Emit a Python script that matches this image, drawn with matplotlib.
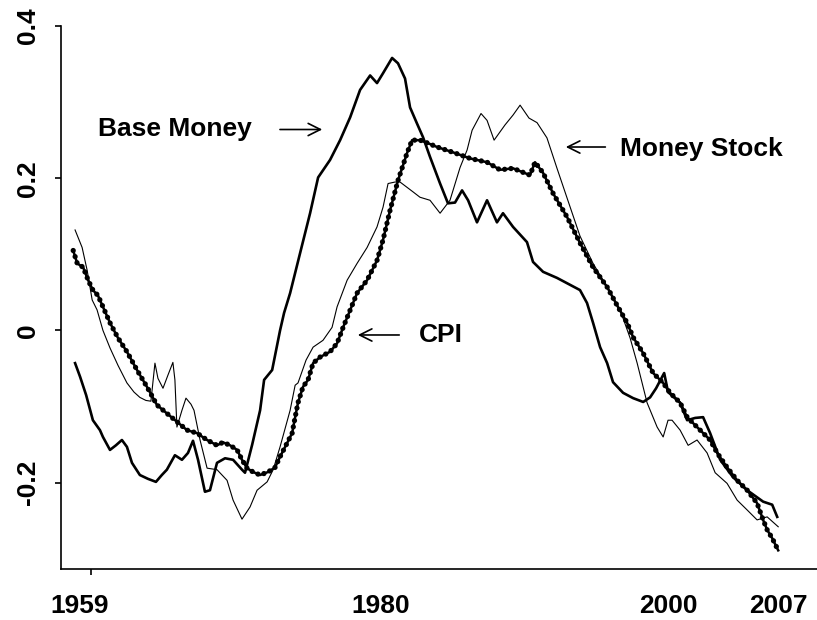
import numpy as np
import matplotlib.pyplot as plt

# values (decimal year, deviation)
base_years = [1958.72, 1959.07, 1959.49, 1959.96, 1960.45, 1960.66, 1961.15, 1961.56, 1961.98, 1962.33,
              1962.68, 1963.23, 1963.79, 1964.35, 1964.76, 1965.11, 1965.67, 1966.16, 1966.58, 1966.93,
              1967.28, 1967.76, 1968.11, 1968.60, 1969.16, 1969.72, 1970.34, 1970.55, 1971.05, 1971.60,
              1971.88, 1972.44, 1972.99, 1973.27, 1973.69, 1974.39, 1975.08, 1975.64, 1976.47, 1977.17,
              1977.87, 1978.56, 1979.26, 1979.74, 1980.16, 1980.79, 1981.20, 1981.69, 1982.04, 1982.52,
              1982.94, 1983.43, 1984.13, 1984.68, 1985.17, 1985.66, 1986.08, 1986.70, 1987.40, 1988.09,
              1988.51, 1989.21, 1990.18, 1990.60, 1991.30, 1992.27, 1992.97, 1993.87, 1994.36, 1994.78,
              1995.27, 1995.76, 1996.17, 1996.87, 1997.57, 1998.27, 1998.75, 1999.17, 1999.73, 2000.00,
              2000.84, 2001.33, 2001.89, 2002.44, 2002.93, 2003.63, 2004.53, 2005.51, 2006.62, 2007.25,
              2007.60]
base_money = [-0.043, -0.061, -0.085, -0.118, -0.131, -0.140, -0.157, -0.151, -0.144, -0.153,
              -0.174, -0.190, -0.195, -0.199, -0.190, -0.183, -0.164, -0.170, -0.161, -0.145,
              -0.170, -0.212, -0.210, -0.174, -0.168, -0.170, -0.183, -0.187, -0.150, -0.105,
              -0.065, -0.052, 0.000, 0.023, 0.049, 0.102, 0.154, 0.201, 0.224, 0.250,
              0.280, 0.316, 0.335, 0.325, 0.338, 0.358, 0.351, 0.331, 0.293, 0.272,
              0.254, 0.228, 0.193, 0.167, 0.168, 0.184, 0.171, 0.142, 0.171, 0.142,
              0.154, 0.136, 0.116, 0.090, 0.077, 0.069, 0.062, 0.053, 0.036, 0.010,
              -0.022, -0.043, -0.068, -0.082, -0.089, -0.094, -0.088, -0.076, -0.056, -0.081,
              -0.095, -0.118, -0.115, -0.114, -0.135, -0.170, -0.193, -0.210, -0.225, -0.229,
              -0.245]

stock_years = [1958.72, 1959.21, 1959.56, 1959.91, 1960.25, 1960.66, 1961.15, 1961.71, 1962.33, 1962.82,
               1963.23, 1963.65, 1964.00, 1964.28, 1964.49, 1964.84, 1965.18, 1965.53, 1965.67, 1965.81,
               1966.16, 1966.44, 1966.79, 1967.00, 1967.42, 1967.91, 1968.60, 1969.30, 1969.72, 1970.34,
               1970.90, 1971.39, 1972.09, 1972.51, 1972.99, 1973.69, 1974.04, 1974.24, 1974.80, 1975.29,
               1975.98, 1976.61, 1976.96, 1977.66, 1978.35, 1979.05, 1979.74, 1980.16, 1980.51, 1981.00,
               1981.34, 1981.83, 1982.25, 1982.73, 1983.43, 1984.13, 1984.82, 1985.52, 1986.01, 1986.36,
               1986.98, 1987.40, 1987.89, 1988.65, 1989.21, 1989.70, 1990.32, 1990.88, 1991.57, 1992.27,
               1992.97, 1993.87, 1994.78, 1995.76, 1996.66, 1997.36, 1997.85, 1998.54, 1999.24, 1999.66,
               2000.00, 2000.28, 2000.84, 2001.40, 2002.02, 2002.72, 2003.28, 2004.11, 2004.81, 2005.51,
               2006.20, 2006.90, 2007.67]
money_stock = [0.132, 0.109, 0.079, 0.040, 0.027, 0.000, -0.023, -0.046, -0.069, -0.081,
               -0.088, -0.092, -0.093, -0.043, -0.063, -0.076, -0.059, -0.042, -0.065, -0.127,
               -0.105, -0.089, -0.097, -0.105, -0.144, -0.181, -0.183, -0.197, -0.223, -0.248,
               -0.232, -0.210, -0.199, -0.183, -0.153, -0.105, -0.072, -0.069, -0.039, -0.022,
               -0.013, 0.004, 0.031, 0.066, 0.088, 0.109, 0.136, 0.162, 0.193, 0.195,
               0.195, 0.188, 0.182, 0.175, 0.171, 0.154, 0.171, 0.214, 0.237, 0.263,
               0.285, 0.276, 0.250, 0.270, 0.283, 0.296, 0.279, 0.273, 0.253, 0.213,
               0.174, 0.124, 0.088, 0.057, 0.027, -0.010, -0.043, -0.095, -0.127, -0.140,
               -0.118, -0.118, -0.131, -0.151, -0.144, -0.161, -0.187, -0.201, -0.223, -0.236,
               -0.249, -0.245, -0.258]

cpi_years = [1958.59, 1958.87, 1959.28, 1959.63, 1959.96, 1960.31, 1960.66, 1961.15, 1961.71, 1962.33,
             1963.03, 1963.72, 1964.42, 1965.11, 1965.81, 1966.51, 1967.21, 1967.91, 1968.60, 1969.02,
             1969.51, 1970.00, 1970.34, 1970.69, 1971.11, 1971.60, 1972.16, 1972.64, 1972.99, 1973.48,
             1973.83, 1974.04, 1974.24, 1974.59, 1974.94, 1975.29, 1975.78, 1976.47, 1976.96, 1977.38,
             1977.66, 1978.35, 1979.05, 1979.74, 1980.16, 1980.65, 1981.20, 1981.83, 1982.18, 1982.73,
             1983.29, 1983.92, 1985.03, 1986.22, 1987.40, 1988.30, 1989.21, 1990.39, 1990.74, 1991.30,
             1992.00, 1992.97, 1993.87, 1994.78, 1995.76, 1996.45, 1997.15, 1997.57, 1998.27, 1998.96,
             1999.66, 2000.14, 2000.84, 2001.33, 2002.02, 2002.93, 2003.42, 2004.11, 2004.81, 2005.51,
             2006.20, 2006.62, 2006.90, 2007.25, 2007.67]
cpi = [0.105, 0.088, 0.083, 0.066, 0.053, 0.046, 0.031, 0.010, -0.010, -0.028,
       -0.052, -0.074, -0.098, -0.109, -0.120, -0.131, -0.135, -0.144, -0.151, -0.147,
       -0.151, -0.157, -0.170, -0.181, -0.186, -0.190, -0.186, -0.180, -0.166, -0.148,
       -0.135, -0.114, -0.095, -0.074, -0.065, -0.043, -0.035, -0.028, -0.017, 0.004,
       0.017, 0.049, 0.066, 0.092, 0.119, 0.158, 0.197, 0.233, 0.250, 0.250,
       0.246, 0.241, 0.234, 0.226, 0.221, 0.211, 0.213, 0.204, 0.221, 0.207,
       0.180, 0.149, 0.115, 0.083, 0.057, 0.033, 0.010, -0.009, -0.030, -0.056,
       -0.069, -0.082, -0.095, -0.114, -0.127, -0.144, -0.161, -0.180, -0.197, -0.210,
       -0.227, -0.249, -0.262, -0.273, -0.289]

y_ticks = [-0.2, 0, 0.2, 0.4]
y_labels = ['-0.2', '0', '0.2', '0.4']
x_tick_marks = [1959.8, 1980, 2000]
x_label_pos = [1959.05, 1980, 2000, 2007.7]
x_labels = ['1959', '1980', '2000', '2007']

plt.rcParams['font.family'] = ['Liberation Sans', 'DejaVu Sans']
plt.rcParams['font.weight'] = 'bold'

fig = plt.figure(figsize=(8.17, 6.2), dpi=100)
ax = fig.add_axes([61 / 817, 51 / 620, 1 - 61 / 817, 543 / 620])

ax.plot(stock_years, money_stock, color='black', lw=0.8)
ax.plot(base_years, base_money, color='black', lw=1.9)
ax.plot(cpi_years, cpi, color='black', lw=1.8)
# dense dots along the CPI line
ax.plot(cpi_years, cpi, color='black', lw=3.8, linestyle=(0, (0.01, 1.2)),
        dash_capstyle='round')

ax.set_xlim(1957.74, 2010.37)
ax.set_ylim(-0.3135, 0.40)

for side in ['top', 'right']:
    ax.spines[side].set_visible(False)
ax.spines['left'].set_linewidth(1.2)
ax.spines['bottom'].set_linewidth(1.2)

ax.set_yticks(y_ticks)
ax.set_yticklabels(y_labels, rotation=90, va='center', fontsize=19, fontweight='bold')
ax.tick_params(axis='y', length=4, width=1.2, pad=11)

ax.set_xticks(x_label_pos)
ax.set_xticklabels(x_labels, fontsize=19, fontweight='bold')
ax.set_xticks(x_tick_marks, minor=True)
ax.tick_params(axis='x', which='major', length=0, pad=18)
ax.tick_params(axis='x', which='minor', length=4, width=1.2)

arrow = dict(arrowstyle='->', color='black', lw=1.2, mutation_scale=22)
ax.text(1960.32, 0.265, 'Base Money', fontsize=19, fontweight='bold', va='center', ha='left')
ax.annotate('', xy=(1976.12, 0.264), xytext=(1972.79, 0.264), arrowprops=arrow)
ax.text(1996.66, 0.239, 'Money Stock', fontsize=19, fontweight='bold', va='center', ha='left')
ax.annotate('', xy=(1992.69, 0.241), xytext=(1995.83, 0.241), arrowprops=arrow)
ax.text(1982.67, -0.006, 'CPI', fontsize=19, fontweight='bold', va='center', ha='left')
ax.annotate('', xy=(1978.21, -0.006), xytext=(1981.48, -0.006), arrowprops=arrow)

fig.savefig('out.png', dpi=100)
